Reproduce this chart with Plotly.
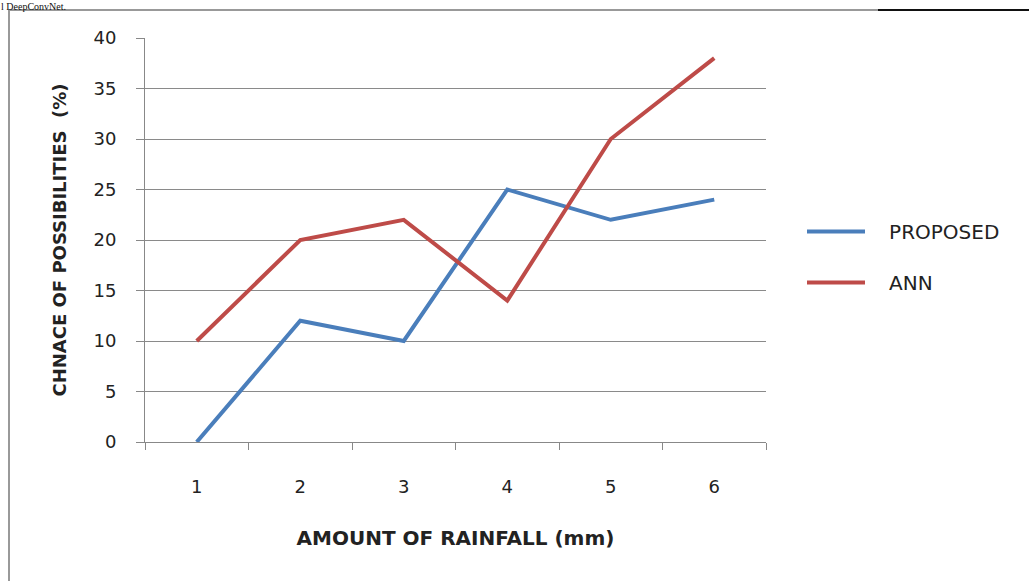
import plotly.graph_objects as go

categories = ["1", "2", "3", "4", "5", "6"]
proposed = [0, 12, 10, 25, 22, 24]
ann = [10, 20, 22, 14, 30, 38]
y_ticks = [0, 5, 10, 15, 20, 25, 30, 35, 40]

W, H = 1029, 581
L, R, T, B = 145, 766, 38, 442

def px(x):
    return (x - L) / (R - L)

def py(y):
    return (B - y) / (B - T)

pad = "\u00a0\u00a0\u00a0"

fig = go.Figure()
fig.add_trace(go.Scatter(x=categories, y=proposed, name=pad + "PROPOSED", mode="lines",
                         line=dict(color="#4A7EBB", width=4), legendgroup="a"))
fig.add_trace(go.Scatter(x=categories, y=ann, name=pad + "ANN", mode="lines",
                         line=dict(color="#BE4B48", width=4), legendgroup="b"))

font = "'DejaVu Sans', sans-serif"

fig.update_layout(
    width=W, height=H,
    margin=dict(l=L, r=W - R, t=T, b=H - B, pad=0),
    paper_bgcolor="white", plot_bgcolor="white",
    font=dict(family=font, size=16, color="#222"),
    showlegend=True,
    legend=dict(x=px(802), y=py(212), xanchor="left", yanchor="top",
                tracegroupgap=22, itemwidth=58, font=dict(size=20, family=font),
                bgcolor="rgba(0,0,0,0)"),
    xaxis=dict(type="category", range=[-0.5, 5.5], tickson="boundaries",
               ticks="outside", ticklen=7, tickcolor="#888", showgrid=False,
               showline=True, linecolor="#888", linewidth=1,
               ticklabelstandoff=28, tickfont=dict(size=18, family=font),
               title=dict(text="<b>AMOUNT OF RAINFALL (mm)</b>", standoff=35,
                          font=dict(size=20, family=font))),
    yaxis=dict(range=[0, 40], tickvals=y_ticks, ticks="outside", ticklen=8,
               tickcolor="#888", showgrid=True, gridcolor="#8a8a8a", gridwidth=1,
               showline=True, linecolor="#888", linewidth=1, zeroline=False,
               ticklabelstandoff=16, tickfont=dict(size=18, family=font),
               title=dict(text="<b>CHNACE OF POSSIBILITIES  (%)</b>", standoff=22,
                          font=dict(size=18, family=font))),
)

# outer frame lines
fig.add_shape(type="line", xref="paper", yref="paper", x0=px(9), x1=px(9), y0=py(10), y1=py(H + 5),
              line=dict(color="#999", width=2))
fig.add_shape(type="line", xref="paper", yref="paper", x0=px(9), x1=px(878), y0=py(10), y1=py(10),
              line=dict(color="#999", width=2))
fig.add_shape(type="line", xref="paper", yref="paper", x0=px(878), x1=px(W + 5), y0=py(10), y1=py(10),
              line=dict(color="#111", width=2))

fig.add_annotation(text="l DeepConvNet.", xref="paper", yref="paper", x=px(0), y=py(0),
                   xanchor="left", yanchor="top", showarrow=False, borderpad=0,
                   font=dict(family="Liberation Serif, serif", size=10, color="#111"))

fig.write_html("out.html", config={"displayModeBar": False},
               post_script="document.body.style.margin='0';document.body.style.overflow='hidden';")
